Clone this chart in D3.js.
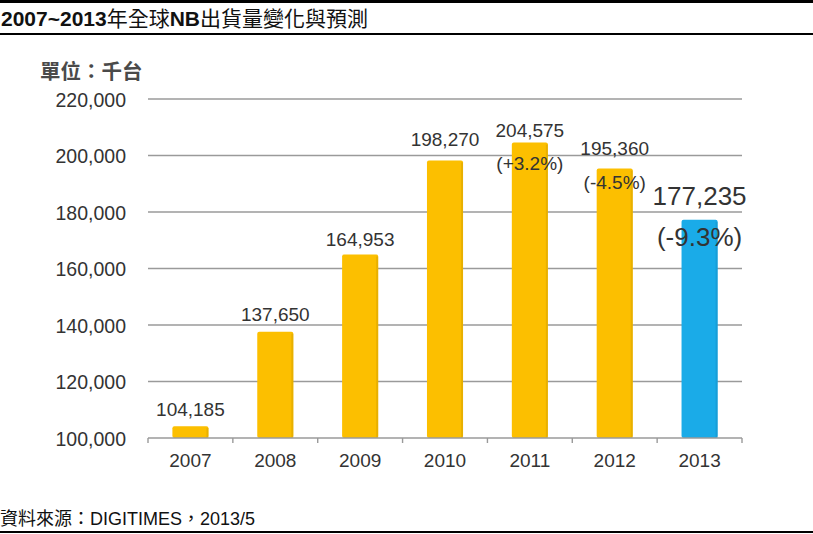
<!DOCTYPE html>
<html>
<head>
<meta charset="utf-8">
<script src="https://cdn.jsdelivr.net/npm/d3@7"></script>
<style>
    body { margin: 0; background: #fff; }
    svg { display: block; }
    .cjk { font-family: "Liberation Sans", Arial, "Noto Sans CJK TC", sans-serif; }
</style>
</head>
<body>
<div class="chart-ctn"></div>
<script>
const years = ['2007', '2008', '2009', '2010', '2011', '2012', '2013'];
const shipments = [104185, 137650, 164953, 198270, 204575, 195360, 177235];
const valueLabels = ['104,185', '137,650', '164,953', '198,270', '204,575', '195,360', '177,235'];
const growthLabels = ['', '', '', '', '(+3.2%)', '(-4.5%)', '(-9.3%)'];
const yTicks = [100000, 120000, 140000, 160000, 180000, 200000, 220000];

const w = 813, h = 534;
const plot = { left: 148, right: 742, top: 99, bottom: 438 };
const YELLOW = '#fcbf00', BLUE = '#1aabe8';

let svg = d3.select('.chart-ctn')
    .append('svg')
    .attr('width', w)
    .attr('height', h)
    .attr('class', 'cjk');

// frame lines
svg.append('rect').attr('x', 0).attr('y', 0).attr('width', w).attr('height', 3).attr('fill', '#000');
svg.append('rect').attr('x', 0).attr('y', 33).attr('width', w).attr('height', 2).attr('fill', '#000');
svg.append('rect').attr('x', 0).attr('y', 531).attr('width', w).attr('height', 2).attr('fill', '#000');

let title = svg.append('text')
    .attr('x', 1)
    .attr('y', 26)
    .attr('font-size', 21)
    .attr('fill', '#111');
title.append('tspan').attr('font-weight', 'bold').text('2007~2013');
title.append('tspan').text('年全球');
title.append('tspan').attr('font-weight', 'bold').text('NB');
title.append('tspan').text('出貨量變化與預測');

svg.append('text')
    .attr('x', 40)
    .attr('y', 79)
    .attr('font-size', 20.5)
    .attr('font-weight', 'bold')
    .attr('fill', '#4a4a4a')
    .text('單位：千台');

let x = d3.scaleBand()
    .domain(years)
    .range([plot.left, plot.right])
    .paddingInner(0.575)
    .paddingOuter(0.2875);

let y = d3.scaleLinear()
    .domain([100000, 220000])
    .range([plot.bottom, plot.top]);

// gridlines
svg.append('g')
    .selectAll('line')
    .data(yTicks.slice(1))
    .join('line')
    .attr('x1', plot.left)
    .attr('x2', plot.right)
    .attr('y1', d => y(d))
    .attr('y2', d => y(d))
    .attr('stroke', '#9a9a9a')
    .attr('stroke-width', 1.6);

const yAxis = d3.axisLeft(y)
    .tickValues(yTicks)
    .tickSize(0)
    .tickPadding(0)
    .tickFormat(d3.format(','));

svg.append('g')
    .attr('id', 'y-axis')
    .attr('transform', 'translate(126, 0)')
    .call(yAxis)
    .call(g => g.select('.domain').remove())
    .call(g => g.selectAll('text')
        .attr('font-size', 19.5)
        .attr('font-family', '"Liberation Sans", Arial, sans-serif')
        .attr('fill', '#333')
        .attr('dy', '0.36em'));

// bars
svg.append('g')
    .selectAll('rect')
    .data(shipments)
    .join('rect')
    .attr('x', (d, i) => x(years[i]))
    .attr('y', d => y(d))
    .attr('width', x.bandwidth())
    .attr('height', d => y(100000) - y(d))
    .attr('rx', 2)
    .attr('fill', (d, i) => i === years.length - 1 ? BLUE : YELLOW);

// subtle right edge shade
svg.append('g')
    .selectAll('rect')
    .data(shipments)
    .join('rect')
    .attr('x', (d, i) => x(years[i]) + x.bandwidth() - 2)
    .attr('y', d => y(d) + 2)
    .attr('width', 2)
    .attr('height', d => y(100000) - y(d) - 2)
    .attr('fill', (d, i) => i === years.length - 1 ? '#1596cc' : '#dba600')
    .attr('opacity', 0.6);

// x axis line with category boundary ticks
const xAxis = d3.axisBottom(x)
    .tickSize(0)
    .tickPadding(16);

svg.append('g')
    .attr('id', 'x-axis')
    .attr('transform', 'translate(0,' + plot.bottom + ')')
    .call(xAxis)
    .call(g => g.select('.domain')
        .attr('d', 'M' + plot.left + ',0H' + plot.right)
        .attr('stroke', '#9a9a9a')
        .attr('stroke-width', 1.6))
    .call(g => g.selectAll('text')
        .attr('font-size', 19)
        .attr('font-family', '"Liberation Sans", Arial, sans-serif')
        .attr('fill', '#333'));

const step = x.step();
svg.append('g')
    .selectAll('line')
    .data(d3.range(years.length + 1))
    .join('line')
    .attr('x1', i => plot.left + i * step)
    .attr('x2', i => plot.left + i * step)
    .attr('y1', plot.bottom)
    .attr('y2', plot.bottom + 5)
    .attr('stroke', '#9a9a9a')
    .attr('stroke-width', 1.4);

// value labels
const valueDy = [-10, -11, -9, -14, -6, -14, -15];
const growthDy = [0, 0, 0, 0, 27, 20, 26];
const isLast = i => i === years.length - 1;

svg.append('g')
    .selectAll('text')
    .data(shipments)
    .join('text')
    .attr('x', (d, i) => x(years[i]) + x.bandwidth() / 2)
    .attr('y', (d, i) => y(d) + valueDy[i])
    .attr('text-anchor', 'middle')
    .attr('font-size', (d, i) => isLast(i) ? 26 : 19)
    .attr('fill', '#333')
    .text((d, i) => valueLabels[i]);

svg.append('g')
    .selectAll('text')
    .data(shipments)
    .join('text')
    .attr('x', (d, i) => x(years[i]) + x.bandwidth() / 2)
    .attr('y', (d, i) => y(d) + growthDy[i])
    .attr('text-anchor', 'middle')
    .attr('font-size', (d, i) => isLast(i) ? 26 : 19)
    .attr('fill', '#333')
    .text((d, i) => growthLabels[i]);

svg.append('text')
    .attr('x', 0)
    .attr('y', 525)
    .attr('font-size', 18)
    .attr('fill', '#111')
    .text('資料來源：DIGITIMES，2013/5');
</script>
</body>
</html>
